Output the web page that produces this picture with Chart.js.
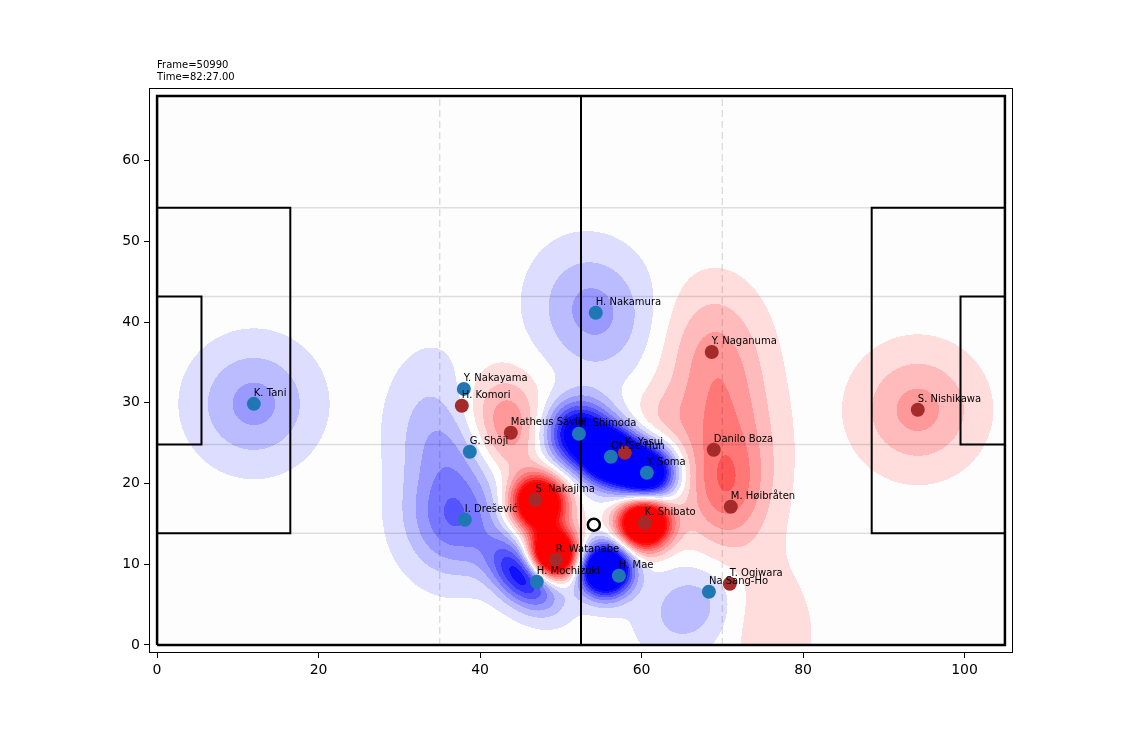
<!DOCTYPE html>
<html>
<head>
<meta charset="utf-8">
<title>Pitch control</title>
<script src="https://cdn.jsdelivr.net/npm/chart.js@4.4.1/dist/chart.umd.min.js"></script>
<style>
    html, body { margin: 0; padding: 0; background: #ffffff; }
    #wrap { width: 1134px; height: 734px; }
</style>
</head>
<body>
<div id="wrap"><canvas id="pitchChart" width="1134" height="734"></canvas></div>
<script>
// ======================================================
// DATA
// ======================================================
const frameLabel = "Frame=50990";
const timeLabel = "Time=82:27.00";

const xTicks = [0, 20, 40, 60, 80, 100];
const yTicks = [0, 10, 20, 30, 40, 50, 60];

// home side (blue)
const blueNames = ["K. Tani", "H. Nakamura", "Y. Nakayama", "G. Shōji", "H. Shimoda", "Oh Se-Hun",
    "Y. Soma", "I. Drešević", "H. Mochizuki", "H. Mae", "Na Sang-Ho"];
const blueX = [11.98, 54.33, 37.99, 38.73, 52.24, 56.20, 60.66, 38.11, 47.03, 57.19, 68.34];
const blueY = [29.87, 41.15, 31.72, 23.93, 26.16, 23.31, 21.33, 15.51, 7.83, 8.57, 6.59];

// away side (red)
const redNames = ["S. Nishikawa", "Y. Naganuma", "H. Komori", "Matheus Sávio", "K. Yasui", "Danilo Boza",
    "M. Høibråten", "S. Nakajima", "K. Shibato", "R. Watanabe", "T. Ogiwara"];
const redX = [94.21, 68.69, 37.74, 43.81, 57.93, 68.94, 71.05, 46.85, 60.40, 49.38, 70.93];
const redY = [29.13, 36.30, 29.63, 26.28, 23.80, 24.18, 17.12, 17.98, 15.13, 10.54, 7.58];

const ballX = [54.09];
const ballY = [14.89];

// influence of each player: centre, spread along / across the heading, heading (deg), peak
const blueInfX = [11.98, 54.0, 34.5, 37.0, 52.24, 56.2, 60.66, 36.9, 45.5, 55.5, 66.2];
const blueInfY = [29.87, 41.3, 28.0, 25.0, 26.16, 23.31, 21.33, 15.8, 8.6, 9.3, 4.8];
const blueInfA = [5.0, 5.4, 6.0, 4.0, 2.77, 2.33, 2.4, 4.8, 3.4, 2.18, 4.5];
const blueInfB = [5.0, 4.7, 4.0, 4.0, 2.77, 2.33, 2.4, 4.2, 2.2, 2.18, 3.6];
const blueInfDir = [0, -70, 90, 0, 0, 0, 0, 90, 135, 0, 215];
const blueInfPeak = [2.87, 2.9, 1.6, 1.3, 9.4, 13.2, 12.4, 4.4, 8.0, 15.1, 2.3];

const redInfX = [94.21, 68.8, 41.0, 43.6, 62.5, 70.5, 70.5, 47.2, 60.3, 49.0, 75.5];
const redInfY = [29.13, 36.0, 29.0, 26.3, 28.0, 23.0, 19.0, 17.6, 15.1, 11.2, 3.0];
const redInfA = [5.0, 6.0, 4.0, 4.0, 3.0, 7.5, 4.0, 2.25, 2.13, 2.13, 6.0];
const redInfB = [5.0, 4.2, 4.0, 3.0, 3.0, 4.2, 3.0, 2.25, 2.13, 2.13, 4.0];
const redInfDir = [0, 90, 0, 90, 0, 90, 90, 0, 0, 0, -75];
const redInfPeak = [2.87, 2.4, 1.5, 2.7, 1.1, 3.5, 1.4, 14.2, 15.8, 15.7, 1.2];

// pitch markings (metres)
const pitchLength = 105;
const pitchWidth = 68;
const outlineX = [0, 105, 105, 0, 0];
const outlineY = [0, 0, 68, 68, 0];
const halfwayX = [52.5, 52.5];
const halfwayY = [0, 68];
const boxLeftX = [0, 16.5, 16.5, 0];
const boxRightX = [105, 88.5, 88.5, 105];
const boxY = [13.84, 13.84, 54.16, 54.16];
const sixLeftX = [0, 5.5, 5.5, 0];
const sixRightX = [105, 99.5, 99.5, 105];
const sixY = [24.84, 24.84, 43.16, 43.16];
const guideRowsY = [13.84, 24.84, 43.16, 54.16];
const guideColsX = [35, 70];


// ======================================================
// HELPERS
// ======================================================
function pts(xs, ys) {
    return xs.map((x, i) => ({ x: x, y: ys[i] }));
}

function lineSet(xs, ys, width, color, dash) {
    return {
        type: "scatter",
        data: pts(xs, ys),
        showLine: true,
        borderColor: color,
        borderWidth: width,
        borderDash: dash || [],
        pointRadius: 0,
        pointHoverRadius: 0,
        fill: false,
        order: 5
    };
}

function buildKernels() {
    const list = [];
    const add = (xs, ys, as, bs, dirs, peaks, sign) => {
        xs.forEach((cx, i) => {
            const t = dirs[i] * Math.PI / 180;
            list.push({
                cx: cx, cy: ys[i],
                c: Math.cos(t), s: Math.sin(t),
                ia: 1 / (as[i] * as[i]), ib: 1 / (bs[i] * bs[i]),
                amp: sign * peaks[i]
            });
        });
    };
    add(blueInfX, blueInfY, blueInfA, blueInfB, blueInfDir, blueInfPeak, 1);
    add(redInfX, redInfY, redInfA, redInfB, redInfDir, redInfPeak, -1);
    return list;
}

function bandShade(k) {
    if (k >= 8) return 0;
    return Math.round(255 * Math.max(0, 1 - 2 * k / 15));
}


// ======================================================
// PLUGINS
// ======================================================
const fieldPlugin = {
    id: "field",
    beforeDatasetsDraw(chart) {
        const { ctx, chartArea, scales } = chart;
        const left = Math.round(chartArea.left);
        const top = Math.round(chartArea.top);
        const w = Math.round(chartArea.right) - left;
        const h = Math.round(chartArea.bottom) - top;
        const img = ctx.createImageData(w, h);
        const d = img.data;
        const kernels = buildKernels();

        for (let j = 0; j < h; j++) {
            const y = scales.y.getValueForPixel(top + j + 0.5);
            for (let i = 0; i < w; i++) {
                const x = scales.x.getValueForPixel(left + i + 0.5);
                const p = (j * w + i) * 4;
                d[p + 3] = 255;
                if (x < 0 || x > pitchLength || y < 0 || y > pitchWidth) {
                    d[p] = d[p + 1] = d[p + 2] = 255;
                    continue;
                }
                let f = 0;
                for (const k of kernels) {
                    const dx = x - k.cx, dy = y - k.cy;
                    const u = dx * k.c + dy * k.s;
                    const v = -dx * k.s + dy * k.c;
                    const q = u * u * k.ia + v * v * k.ib;
                    if (q < 60) f += k.amp * Math.exp(-0.5 * q);
                }
                const band = Math.floor(Math.abs(f) + 0.5);
                if (band === 0) {
                    d[p] = d[p + 1] = d[p + 2] = 253;
                } else {
                    const c = bandShade(band);
                    if (f > 0) { d[p] = c; d[p + 1] = c; d[p + 2] = 255; }
                    else { d[p] = 255; d[p + 1] = c; d[p + 2] = c; }
                }
            }
        }
        ctx.putImageData(img, left, top);
    }
};

const labelPlugin = {
    id: "labels",
    afterDatasetsDraw(chart) {
        const { ctx, scales } = chart;
        ctx.save();
        ctx.font = "10px 'DejaVu Sans'";
        ctx.fillStyle = "#000000";
        ctx.textAlign = "left";
        ctx.textBaseline = "alphabetic";
        const put = (names, xs, ys) => names.forEach((n, i) => {
            ctx.fillText(n, scales.x.getPixelForValue(xs[i]), scales.y.getPixelForValue(ys[i] + 1));
        });
        put(blueNames, blueX, blueY);
        put(redNames, redX, redY);

        const tx = scales.x.getPixelForValue(0);
        const ty = scales.y.getPixelForValue(70);
        ctx.fillText(frameLabel, tx, ty - 12);
        ctx.fillText(timeLabel, tx, ty);
        ctx.restore();
    },
    afterDraw(chart) {
        const { ctx, chartArea } = chart;
        ctx.save();
        ctx.strokeStyle = "#000000";
        ctx.lineWidth = 1;
        ctx.strokeRect(Math.round(chartArea.left) + 0.5, Math.round(chartArea.top) + 0.5,
            Math.round(chartArea.right - chartArea.left) - 1, Math.round(chartArea.bottom - chartArea.top) - 1);
        ctx.restore();
    }
};


// ======================================================
// CHART
// ======================================================
const guideSets = [];
guideRowsY.forEach(gy => guideSets.push(lineSet([0, pitchLength], [gy, gy], 1.5, "rgba(0,0,0,0.12)")));
guideColsX.forEach(gx => guideSets.push(lineSet([gx, gx], [0, pitchWidth], 1.5, "rgba(0,0,0,0.12)", [7, 4])));
guideSets.forEach(s => s.order = 6);

const markSets = [
    lineSet(outlineX, outlineY, 2.5, "#000000"),
    lineSet(halfwayX, halfwayY, 2, "#000000"),
    lineSet(boxLeftX, boxY, 2, "#000000"),
    lineSet(boxRightX, boxY, 2, "#000000"),
    lineSet(sixLeftX, sixY, 2, "#000000"),
    lineSet(sixRightX, sixY, 2, "#000000")
];

new Chart(document.getElementById("pitchChart"), {
    type: "scatter",
    data: {
        datasets: [
            {
                label: "Ball",
                data: pts(ballX, ballY),
                pointRadius: 6,
                pointBackgroundColor: "#ffffff",
                pointBorderColor: "#000000",
                pointBorderWidth: 2.5,
                order: 1
            },
            {
                label: "Blue",
                data: pts(blueX, blueY),
                pointRadius: 7,
                pointBackgroundColor: "#1f77b4",
                pointBorderWidth: 0,
                order: 2
            },
            {
                label: "Red",
                data: pts(redX, redY),
                pointRadius: 7,
                pointBackgroundColor: "#a52a2a",
                pointBorderWidth: 0,
                order: 2
            },
            ...markSets,
            ...guideSets
        ]
    },
    options: {
        responsive: false,
        animation: false,
        events: [],
        layout: {
            autoPadding: false,
            padding: { left: 89, right: 121, top: 88, bottom: 21 }
        },
        plugins: {
            legend: { display: false },
            tooltip: { enabled: false }
        },
        scales: {
            x: {
                type: "linear",
                min: -1,
                max: 106,
                afterFit: s => { s.height = 60; },
                afterBuildTicks: s => { s.ticks = xTicks.map(v => ({ value: v })); },
                border: { display: false },
                grid: { drawOnChartArea: false, drawTicks: true, tickLength: 5, color: "#000000" },
                ticks: { color: "#000000", padding: 4, font: { family: "'DejaVu Sans'", size: 14 }, maxRotation: 0 }
            },
            y: {
                type: "linear",
                min: -1,
                max: 69,
                afterFit: s => { s.width = 60; },
                afterBuildTicks: s => { s.ticks = yTicks.map(v => ({ value: v })); },
                border: { display: false },
                grid: { drawOnChartArea: false, drawTicks: true, tickLength: 5, color: "#000000" },
                ticks: { color: "#000000", padding: 4, font: { family: "'DejaVu Sans'", size: 14 } }
            }
        }
    },
    plugins: [fieldPlugin, labelPlugin]
});
</script>
</body>
</html>
